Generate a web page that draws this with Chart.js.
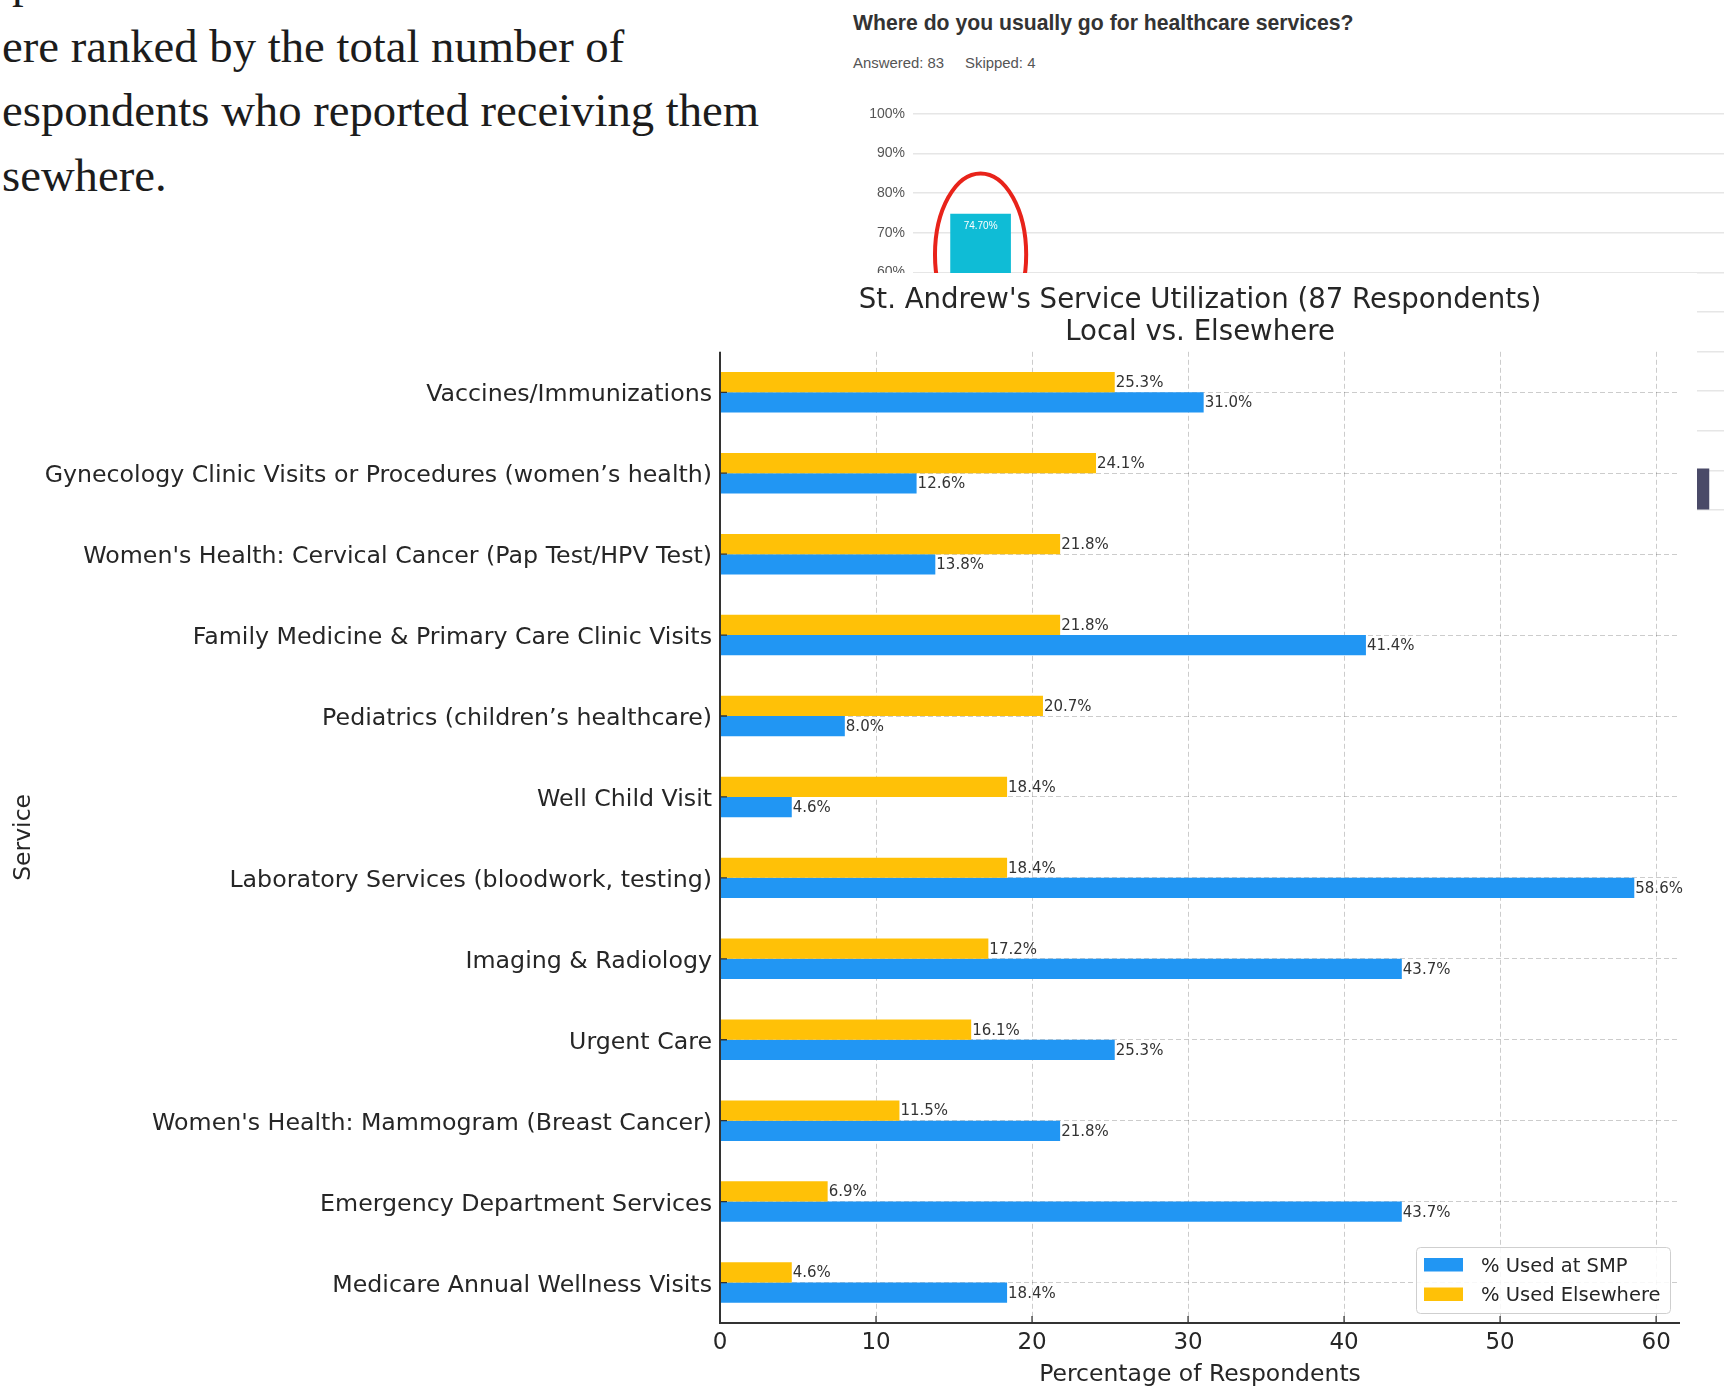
<!DOCTYPE html>
<html>
<head>
<meta charset="utf-8">
<script src="https://cdn.jsdelivr.net/npm/chart.js@4/dist/chart.umd.min.js"></script>
<style>
  html,body{margin:0;padding:0;background:#fff;width:1724px;height:1386px;overflow:hidden;position:relative}
  .intro{position:absolute;left:2px;top:-51px;font-family:"Liberation Serif",serif;font-size:46.7px;line-height:64.5px;color:#1c1c1c;white-space:pre}
  .survey-title{position:absolute;left:853px;top:11px;font-family:"Liberation Sans",Arial,sans-serif;font-weight:bold;font-size:21.2px;line-height:24px;color:#333}
  .survey-meta{position:absolute;left:853px;top:55px;font-family:"Liberation Sans",Arial,sans-serif;font-size:14.9px;line-height:17px;color:#555}
  .survey-meta span{margin-right:21px}
  #surveyChart{position:absolute;left:853px;top:94px}
  .figure{position:absolute;left:0;top:273px;width:1697px;height:1116px;background:#fff}
</style>
</head>
<body>
<div class="intro"><span style="margin-left:10px">p</span>
ere ranked by the total number of
espondents who reported receiving them
sewhere.</div>

<div class="survey-title">Where do you usually go for healthcare services?</div>
<div class="survey-meta"><span>Answered: 83</span>Skipped: 4</div>
<canvas id="surveyChart" width="871" height="436"></canvas>

<div class="figure"><canvas id="mainChart" width="1697" height="1116"></canvas></div>

<script>
// ================= DATA =================
const services = [
  "Vaccines/Immunizations",
  "Gynecology Clinic Visits or Procedures (women\u2019s health)",
  "Women's Health: Cervical Cancer (Pap Test/HPV Test)",
  "Family Medicine & Primary Care Clinic Visits",
  "Pediatrics (children\u2019s healthcare)",
  "Well Child Visit",
  "Laboratory Services (bloodwork, testing)",
  "Imaging & Radiology",
  "Urgent Care",
  "Women's Health: Mammogram (Breast Cancer)",
  "Emergency Department Services",
  "Medicare Annual Wellness Visits"
];
const usedElsewhere = [25.3, 24.1, 21.8, 21.8, 20.7, 18.4, 18.4, 17.2, 16.1, 11.5, 6.9, 4.6];
const usedAtSMP     = [31.0, 12.6, 13.8, 41.4, 8.0, 4.6, 58.6, 43.7, 25.3, 21.8, 43.7, 18.4];
const xMax = 61.53;
const xStep = 10;

// survey screenshot behind the figure (only partly visible)
const surveyChoices = ["1", "2", "3", "4", "5", "6"];
const surveyMain  = [74.7];
const surveyOther = [null, null, null, null, null, 10.4];
const surveyMax = 100;
const surveyStep = 10;

const FONT = "'DejaVu Sans', sans-serif";
const TXT = "#262626";
const GRID = "rgba(0,0,0,0.2)";
const BLUE = "#2196F3";
const YELLOW = "#FFC107";

// ================= SURVEY CHART =================
const surveyMarks = {
  id: "surveyMarks",
  afterDatasetsDraw(chart){
    const {ctx, scales:{y}} = chart;
    const el = chart.getDatasetMeta(0).data[0];
    ctx.save();
    ctx.fillStyle = "#fff";
    ctx.font = "10px 'Liberation Sans', Arial, sans-serif";
    ctx.textAlign = "center";
    ctx.textBaseline = "middle";
    ctx.fillText(surveyMain[0].toFixed(2) + "%", el.x, el.y + 12);
    // red hand-drawn circle round the bar
    const top = y.getPixelForValue(85);
    const cy = y.getPixelForValue(64.5);
    ctx.strokeStyle = "#e8231a";
    ctx.lineWidth = 4;
    ctx.beginPath();
    ctx.ellipse(el.x, cy, el.width * 0.76, cy - top, 0, 0, Math.PI * 2);
    ctx.stroke();
    ctx.restore();
  }
};

new Chart(document.getElementById("surveyChart"), {
  type: "bar",
  data: {
    labels: surveyChoices,
    datasets: [
      {data: surveyMain, backgroundColor: "#0fbcd6", barThickness: 60, grouped: false},
      {data: surveyOther, backgroundColor: "#4a4a68", barThickness: 105, grouped: false}
    ]
  },
  options: {
    responsive: false,
    animation: false,
    layout: {padding: {top: 20, bottom: 20, right: 0}},
    plugins: {legend: {display: false}, tooltip: {enabled: false}},
    scales: {
      x: {display: false},
      y: {
        min: 0, max: surveyMax,
        ticks: {stepSize: surveyStep, padding: 8, color: "#555",
          font: {family: "'Liberation Sans', Arial, sans-serif", size: 14},
          callback: v => v + "%"},
        grid: {color: "#e6e6e6", lineWidth: 1.5, drawTicks: false},
        border: {display: false},
        afterFit: s => { s.width = 60; }
      }
    }
  },
  plugins: [surveyMarks]
});

// ================= MAIN CHART =================
const spines = {
  id: "spines",
  afterDatasetsDraw(chart){
    const {ctx, chartArea:a, scales:{x, y}} = chart;
    ctx.save();
    ctx.strokeStyle = "#333";
    ctx.lineWidth = 2;
    ctx.beginPath();
    ctx.moveTo(a.left, a.top);
    ctx.lineTo(a.left, a.bottom);
    ctx.lineTo(a.right, a.bottom);
    ctx.stroke();
    ctx.lineWidth = 1.3;
    ctx.beginPath();
    x.ticks.forEach(t => {
      const px = x.getPixelForValue(t.value);
      ctx.moveTo(px, a.bottom); ctx.lineTo(px, a.bottom - 7);
    });
    y.ticks.forEach((t, i) => {
      const py = y.getPixelForTick(i);
      ctx.moveTo(a.left, py); ctx.lineTo(a.left + 7, py);
    });
    ctx.stroke();
    ctx.restore();
  }
};

const valueLabels = {
  id: "valueLabels",
  afterDatasetsDraw(chart){
    const {ctx} = chart;
    ctx.save();
    ctx.font = "15px " + FONT;
    ctx.fillStyle = "#333";
    ctx.textAlign = "left";
    ctx.textBaseline = "middle";
    chart.data.datasets.forEach((ds, di) => {
      chart.getDatasetMeta(di).data.forEach((bar, i) => {
        ctx.fillText(ds.data[i].toFixed(1) + "%", bar.x + 1, bar.y + 1);
      });
    });
    ctx.restore();
  }
};

const boxLegend = {
  id: "boxLegend",
  afterDraw(chart){
    const {ctx, chartArea:a} = chart;
    const w = 254, h = 66;
    const x0 = a.right - 10 - w, y0 = a.bottom - 10 - h;
    ctx.save();
    ctx.fillStyle = "rgba(255,255,255,0.85)";
    ctx.strokeStyle = "#cfcfcf";
    ctx.lineWidth = 1;
    ctx.beginPath();
    ctx.roundRect(x0 + 0.5, y0 + 0.5, w, h, 4);
    ctx.fill();
    ctx.stroke();
    ctx.font = "19.5px " + FONT;
    ctx.textBaseline = "middle";
    const items = chart.data.datasets.slice().reverse();
    items.forEach((ds, i) => {
      const cy = y0 + 17.5 + i * 29.5;
      ctx.fillStyle = ds.backgroundColor;
      ctx.fillRect(x0 + 8, cy - 6.5, 39, 13.5);
      ctx.fillStyle = TXT;
      ctx.fillText(ds.label, x0 + 65, cy + 2);
    });
    ctx.restore();
  }
};

new Chart(document.getElementById("mainChart"), {
  type: "bar",
  data: {
    labels: services,
    datasets: [
      {label: "% Used Elsewhere", data: usedElsewhere, backgroundColor: YELLOW},
      {label: "% Used at SMP", data: usedAtSMP, backgroundColor: BLUE}
    ]
  },
  options: {
    indexAxis: "y",
    responsive: false,
    animation: false,
    datasets: {bar: {categoryPercentage: 0.5, barPercentage: 1}},
    layout: {padding: {right: 17}},
    plugins: {
      legend: {display: false},
      tooltip: {enabled: false},
      title: {
        display: true,
        fullSize: false,
        text: ["St. Andrew's Service Utilization (87 Respondents)", "Local vs. Elsewhere"],
        color: TXT,
        font: {family: FONT, size: 27.6, weight: "normal", lineHeight: 1.156},
        padding: {top: 12, bottom: 3}
      }
    },
    scales: {
      x: {
        min: 0, max: xMax,
        ticks: {stepSize: xStep, includeBounds: false, padding: 6, color: TXT, font: {family: FONT, size: 23}},
        grid: {color: GRID, lineWidth: 1, drawTicks: false},
        border: {display: false, dash: [5, 3]},
        title: {display: true, text: "Percentage of Respondents", color: TXT,
          font: {family: FONT, size: 23.5}, padding: {top: 0, bottom: 0}},
        afterFit: s => { s.height = 66; }
      },
      y: {
        ticks: {padding: 8, labelOffset: 3, color: TXT, font: {family: FONT, size: 23.7}, autoSkip: false},
        grid: {offset: false, color: GRID, lineWidth: 1, drawTicks: false},
        border: {display: false, dash: [5, 3]},
        title: {display: true, text: "Service", color: TXT,
          font: {family: FONT, size: 23.5}, padding: {top: 10, bottom: 0}},
        afterFit: s => { s.width = 720; }
      }
    }
  },
  plugins: [spines, valueLabels, boxLegend]
});
</script>
</body>
</html>
